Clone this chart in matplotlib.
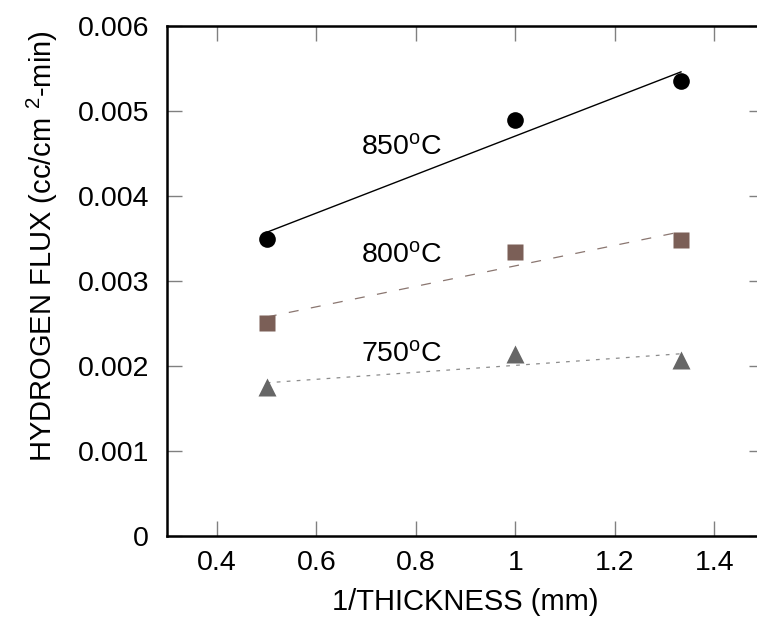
import numpy as np
import matplotlib
matplotlib.use("Agg")
import matplotlib.pyplot as plt

plt.rcParams['font.family'] = ['Liberation Sans', 'DejaVu Sans']
plt.rcParams['mathtext.fontset'] = 'custom'
plt.rcParams['mathtext.rm'] = 'Liberation Sans'
plt.rcParams['mathtext.it'] = 'Liberation Sans'

# inverse membrane thickness (1/mm)
inv_thickness = [0.5, 1.0, 1.333]

# hydrogen flux (cc/cm2-min) at each temperature
flux_850 = [0.00350, 0.00489, 0.00535]
flux_800 = [0.00251, 0.003345, 0.00348]
flux_750 = [0.00175, 0.00214, 0.002065]

temp_labels = ['850', '800', '750']

fig = plt.figure(figsize=(7.57, 6.24), dpi=100)
ax = fig.add_axes([0.221, 0.141, 0.7883, 0.8173])

x = np.array(inv_thickness)

series = [
    (flux_850, dict(marker='o', color='black', ms=12),
     dict(color='black', lw=1.0, ls='-')),
    (flux_800, dict(marker='s', color='#7b5f57', ms=11.5),
     dict(color='#8a7670', lw=0.9, ls=(0, (8, 10)))),
    (flux_750, dict(marker='^', color='#666666', ms=12.5),
     dict(color='#8c8c8c', lw=0.9, ls=(0, (3, 5)))),
]

for y, mstyle, lstyle in series:
    # linear fit through the measured points
    k, b = np.polyfit(x, y, 1)
    ax.plot([x[0], x[-1]], [k * x[0] + b, k * x[-1] + b], **lstyle, zorder=2)
    ax.plot(x, y, ls='none', mec='none', zorder=3, **mstyle)

# temperature labels beside each line
label_pos = [(0.69, 0.00449), (0.69, 0.003215), (0.69, 0.00205)]
for t, (lx, ly) in zip(temp_labels, label_pos):
    ax.text(lx, ly, t + r'$^{\mathrm{o}}$C', fontsize=20.5, ha='left', va='baseline')

ax.set_xlim(0.3, 1.5)
ax.set_ylim(0, 0.006)
ax.set_xticks([0.4, 0.6, 0.8, 1.0, 1.2, 1.4])
ax.set_xticklabels(['0.4', '0.6', '0.8', '1', '1.2', '1.4'])
ax.set_yticks([0, 0.001, 0.002, 0.003, 0.004, 0.005, 0.006])
ax.set_yticklabels(['0', '0.001', '0.002', '0.003', '0.004', '0.005', '0.006'])

ax.tick_params(axis='both', direction='in', length=11, width=1.0, color='#808080',
               labelsize=20.5, top=True, right=True)
ax.tick_params(axis='x', pad=10)
ax.tick_params(axis='y', pad=13)
for s in ax.spines.values():
    s.set_linewidth(1.8)

ax.set_xlabel('1/THICKNESS (mm)', fontsize=21, labelpad=9)
ax.set_ylabel(r'HYDROGEN FLUX (cc/cm $^{2}$-min)', fontsize=21)
ax.yaxis.set_label_coords(-0.18, 0.569)

fig.savefig('out.png', dpi=100)
